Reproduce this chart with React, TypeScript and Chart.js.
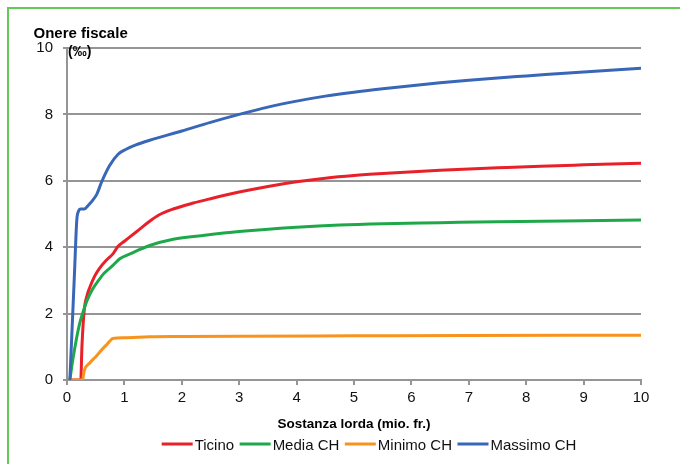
import React, { useEffect, useRef } from "react";
import { Chart, registerables } from "chart.js";

Chart.register(...registerables);

const chartTitle = "Onere fiscale";
const unitLabel = "(‰)";
const xAxisTitle = "Sostanza lorda (mio. fr.)";

const seriesNames = ["Ticino", "Media CH", "Minimo CH", "Massimo CH"];
const seriesColors = ["#e8202a", "#1fa84a", "#f7941d", "#3867b7"];

const ticinoX = [0.05, 0.24, 0.26, 0.3, 0.35, 0.4, 0.48, 0.56, 0.68, 0.8, 0.89, 1.0, 1.2, 1.44, 1.6, 1.85, 2.2, 2.5, 3, 3.5, 4, 4.5, 5, 5.5, 6.5, 7.5, 8.25, 9, 10];
const ticinoY = [0, 0, 1.0, 2.1, 2.55, 2.8, 3.12, 3.35, 3.6, 3.8, 4.03, 4.18, 4.45, 4.78, 4.97, 5.15, 5.33, 5.46, 5.66, 5.83, 5.97, 6.08, 6.16, 6.22, 6.32, 6.39, 6.44, 6.48, 6.53];

const mediaX = [0.05, 0.1, 0.16, 0.22, 0.28, 0.35, 0.45, 0.55, 0.65, 0.8, 0.92, 1.1, 1.44, 1.85, 2.4, 3, 4, 4.75, 5.5, 6.5, 7.5, 8.25, 9, 10];
const mediaY = [0, 0.6, 1.2, 1.7, 2.05, 2.4, 2.75, 3.0, 3.22, 3.45, 3.65, 3.8, 4.05, 4.24, 4.36, 4.47, 4.6, 4.67, 4.71, 4.74, 4.77, 4.78, 4.8, 4.82];

const minimoX = [0.02, 0.27, 0.3, 0.4, 0.5, 0.6, 0.7, 0.8, 1.0, 1.44, 2, 3, 5, 7, 10];
const minimoY = [0, 0, 0.28, 0.52, 0.7, 0.9, 1.08, 1.25, 1.27, 1.3, 1.31, 1.32, 1.33, 1.34, 1.35];

const massimoX = [0.05, 0.13, 0.17, 0.2, 0.24, 0.3, 0.38, 0.45, 0.52, 0.6, 0.74, 0.89, 1.03, 1.2, 1.44, 2, 2.5, 3, 3.5, 4, 4.5, 5, 5.5, 6, 6.5, 7, 7.5, 8, 9, 10];
const massimoY = [0, 3.2, 4.8, 5.08, 5.15, 5.15, 5.28, 5.42, 5.6, 5.95, 6.45, 6.8, 6.95, 7.08, 7.22, 7.5, 7.76, 8.0, 8.22, 8.4, 8.55, 8.67, 8.77, 8.86, 8.95, 9.03, 9.1, 9.16, 9.28, 9.39];

const seriesX = [ticinoX, mediaX, minimoX, massimoX];
const seriesY = [ticinoY, mediaY, minimoY, massimoY];

const FONT = "'Liberation Sans', Arial, sans-serif";
const GRID = "#959595";

const headerPlugin = {
  id: "headerTexts",
  afterDraw(chart: any) {
    const { ctx, chartArea } = chart;
    ctx.save();
    ctx.fillStyle = "#000";
    ctx.textBaseline = "middle";
    ctx.textAlign = "left";
    ctx.font = `bold 15px ${FONT}`;
    ctx.fillText(chartTitle, chartArea.left - 33.5, chartArea.top - 14.5);
    ctx.font = `bold 14px ${FONT}`;
    ctx.fillText(unitLabel, chartArea.left + 1, chartArea.top + 4.5);
    ctx.restore();
  },
};

// Legend drawn from the chart's own datasets (labels + colours)
const legendPlugin = {
  id: "lineLegend",
  afterDraw(chart: any) {
    const { ctx } = chart;
    const lineW = 31;
    const gapText = 2;
    const gapItem = 5.5;
    ctx.save();
    ctx.font = `15px ${FONT}`;
    const items = chart.data.datasets.map((d: any) => ({
      label: d.label,
      color: d.borderColor,
      w: ctx.measureText(d.label).width,
    }));
    const total =
      items.reduce((s: number, it: any) => s + lineW + gapText + it.w, 0) + gapItem * (items.length - 1);
    let x = 369 - total / 2;
    const y = 444;
    ctx.textBaseline = "middle";
    ctx.textAlign = "left";
    items.forEach((it: any) => {
      ctx.fillStyle = it.color;
      ctx.fillRect(x, y - 1.5, lineW, 3);
      x += lineW + gapText;
      ctx.fillStyle = "#111";
      ctx.fillText(it.label, x, y + 1.5);
      x += it.w + gapItem;
    });
    ctx.restore();
  },
};

export default function App() {
  const ref = useRef<HTMLCanvasElement | null>(null);
  useEffect(() => {
    if (!ref.current) return;
    Chart.defaults.font.family = FONT;
    Chart.defaults.color = "#111";
    const datasets = seriesNames.map((name, i) => ({
      label: name,
      data: seriesX[i].map((x, j) => ({ x, y: seriesY[i][j] })),
      borderColor: seriesColors[i],
      backgroundColor: seriesColors[i],
      borderWidth: 3,
      pointRadius: 0,
      cubicInterpolationMode: "monotone" as const,
      fill: false,
      order: 3 - i,
    }));
    const chart = new Chart(ref.current, {
      type: "line",
      data: { datasets },
      plugins: [headerPlugin, legendPlugin],
      options: {
        animation: false,
        responsive: false,
        layout: { padding: { top: 48, right: 39, left: 0, bottom: 29 } },
        plugins: {
          title: { display: false },
          tooltip: { enabled: false },
          legend: { display: false },
        },
        scales: {
          x: {
            type: "linear",
            min: 0,
            max: 10,
            afterFit: (s: any) => {
              s.height = 55;
            },
            ticks: { stepSize: 1, padding: 4, font: { size: 15 }, color: "#111", maxRotation: 0 },
            grid: { drawOnChartArea: false, drawTicks: true, tickLength: 5, color: GRID, lineWidth: 2 },
            border: { display: true, color: GRID, width: 2 },
            title: {
              display: true,
              text: xAxisTitle,
              font: { size: 13.5, weight: "bold" },
              color: "#000",
              padding: { top: 0, bottom: 3 },
            },
          },
          y: {
            type: "linear",
            min: 0,
            max: 10,
            afterFit: (s: any) => {
              s.width = 67;
            },
            ticks: { stepSize: 2, padding: 10, font: { size: 15 }, color: "#111" },
            grid: { drawOnChartArea: true, drawTicks: true, tickLength: 4, color: GRID, lineWidth: 2 },
            border: { display: true, color: GRID, width: 2 },
          },
        },
      },
    } as any);
    return () => chart.destroy();
  }, []);
  return (
    <>
      <div
        style={{
          position: "fixed",
          left: 7,
          top: 7,
          width: 700,
          height: 500,
          borderLeft: "2px solid #62c957",
          borderTop: "2px solid #62c957",
        }}
      />
      <canvas
        ref={ref}
        width={680}
        height={464}
        style={{ position: "fixed", left: 0, top: 0, width: 680, height: 464 }}
      />
    </>
  );
}
